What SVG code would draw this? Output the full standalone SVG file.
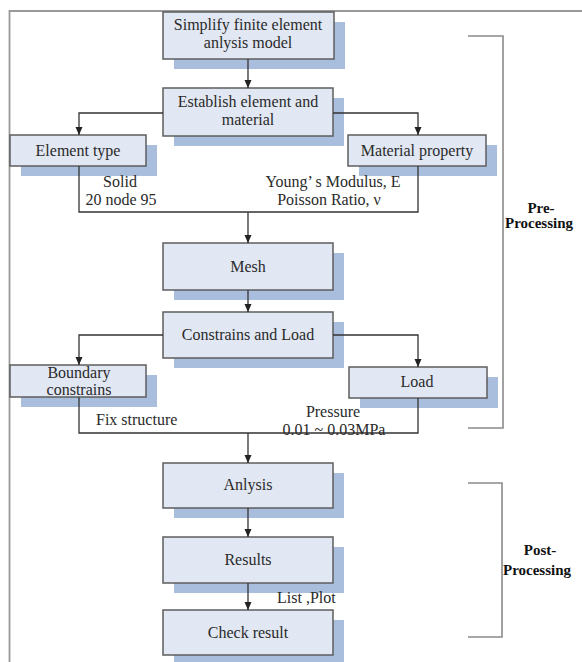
<svg xmlns="http://www.w3.org/2000/svg" width="582" height="662" viewBox="0 0 582 662">
<style>
.box{fill:#e1e7f3;stroke:#5e5e5e;stroke-width:1.5}
.sh{fill:#a9bedc}
.t{font-family:"Liberation Serif","Times New Roman",serif;font-size:16px;fill:#2a2a2a;text-anchor:middle}
.l{text-anchor:start}
.b{font-family:"Liberation Serif","Times New Roman",serif;font-size:15px;font-weight:bold;fill:#111}
.c{fill:none;stroke:#333;stroke-width:1.3}
.br{fill:none;stroke:#8a8a8a;stroke-width:1.6}
</style>
<defs>
<marker id="ah" viewBox="0 0 8 8" refX="8" refY="4" markerWidth="8" markerHeight="8" markerUnits="userSpaceOnUse" orient="auto">
<path d="M0,0.5 L8,4 L0,7.5 Z" fill="#222"/>
</marker>
</defs>
<rect width="582" height="662" fill="#fff"/>
<path d="M9.5,662 V11 H582" fill="none" stroke="#999" stroke-width="1.8"/>
<g id="n1"><rect class="sh" x="174" y="22" width="171" height="47"/><rect class="box" x="163" y="12" width="171" height="47"/><text class="t" x="248" y="30">Simplify finite element</text><text class="t" x="248" y="48">anlysis model</text></g>
<g id="n2"><rect class="sh" x="174" y="98" width="170" height="48"/><rect class="box" x="163" y="88" width="170" height="48"/><text class="t" x="248" y="107">Establish element and</text><text class="t" x="248" y="125">material</text></g>
<g id="n3"><rect class="sh" x="21" y="145" width="136" height="31"/><rect class="box" x="10" y="135" width="136" height="31"/><text class="t" x="78" y="156">Element type</text></g>
<g id="n4"><rect class="sh" x="359" y="145" width="138" height="31"/><rect class="box" x="348" y="135" width="138" height="31"/><text class="t" x="417" y="156">Material property</text></g>
<g id="n5"><rect class="sh" x="174" y="253" width="170" height="47"/><rect class="box" x="163" y="243" width="170" height="47"/><text class="t" x="248" y="272">Mesh</text></g>
<g id="n6"><rect class="sh" x="174" y="322" width="170" height="46"/><rect class="box" x="163" y="312" width="170" height="46"/><text class="t" x="248" y="340">Constrains and Load</text></g>
<g id="n7"><rect class="sh" x="21" y="375" width="136" height="32"/><rect class="box" x="10" y="365" width="136" height="32"/><text class="t" x="79" y="378">Boundary</text><text class="t" x="79" y="395">constrains</text></g>
<g id="n8"><rect class="sh" x="360" y="377" width="138" height="31"/><rect class="box" x="349" y="367" width="138" height="31"/><text class="t" x="417" y="387">Load</text></g>
<g id="n9"><rect class="sh" x="174" y="473" width="170" height="45"/><rect class="box" x="163" y="463" width="170" height="45"/><text class="t" x="248" y="490">Anlysis</text></g>
<g id="n10"><rect class="sh" x="174" y="547" width="170" height="46"/><rect class="box" x="163" y="537" width="170" height="46"/><text class="t" x="248" y="565">Results</text></g>
<g id="n11"><rect class="sh" x="174" y="620" width="170" height="45"/><rect class="box" x="163" y="610" width="170" height="45"/><text class="t" x="248" y="638">Check result</text></g>
<g id="connectors">
<path class="c" d="M248,59 V88" marker-end="url(#ah)"/>
<path class="c" d="M163,113 H79 V135" marker-end="url(#ah)"/>
<path class="c" d="M333,113 H418 V135" marker-end="url(#ah)"/>
<path class="c" d="M79,166 V212 H418 V166"/>
<path class="c" d="M248,212 V243" marker-end="url(#ah)"/>
<path class="c" d="M248,290 V312" marker-end="url(#ah)"/>
<path class="c" d="M163,335 H79 V365" marker-end="url(#ah)"/>
<path class="c" d="M333,335 H418 V367" marker-end="url(#ah)"/>
<path class="c" d="M79,397 V433 H418 V398"/>
<path class="c" d="M248,433 V463" marker-end="url(#ah)"/>
<path class="c" d="M248,508 V537" marker-end="url(#ah)"/>
<path class="c" d="M248,583 V610" marker-end="url(#ah)"/>
</g>
<g id="labels">
<text class="t" x="120" y="187">Solid</text>
<text class="t" x="121" y="205">20 node 95</text>
<text class="t" x="333" y="187">Young’ s Modulus, E</text>
<text class="t" x="329" y="205">Poisson Ratio, ν</text>
<text class="t l" x="96" y="425">Fix structure</text>
<text class="t" x="333" y="417">Pressure</text>
<text class="t" x="334" y="435">0.01 ~ 0.03MPa</text>
<text class="t l" x="277" y="603">List ,Plot</text>
</g>
<g id="pre">
<path class="br" d="M468,36 H503 V428 H468"/>
<text class="b" x="541" y="213" text-anchor="middle">Pre-</text>
<text class="b" x="505" y="228">Processing</text>
</g>
<g id="post">
<path class="br" d="M468,483 H502 V637 H468"/>
<text class="b" x="540" y="555" text-anchor="middle">Post-</text>
<text class="b" x="503" y="575">Processing</text>
</g>
</svg>
